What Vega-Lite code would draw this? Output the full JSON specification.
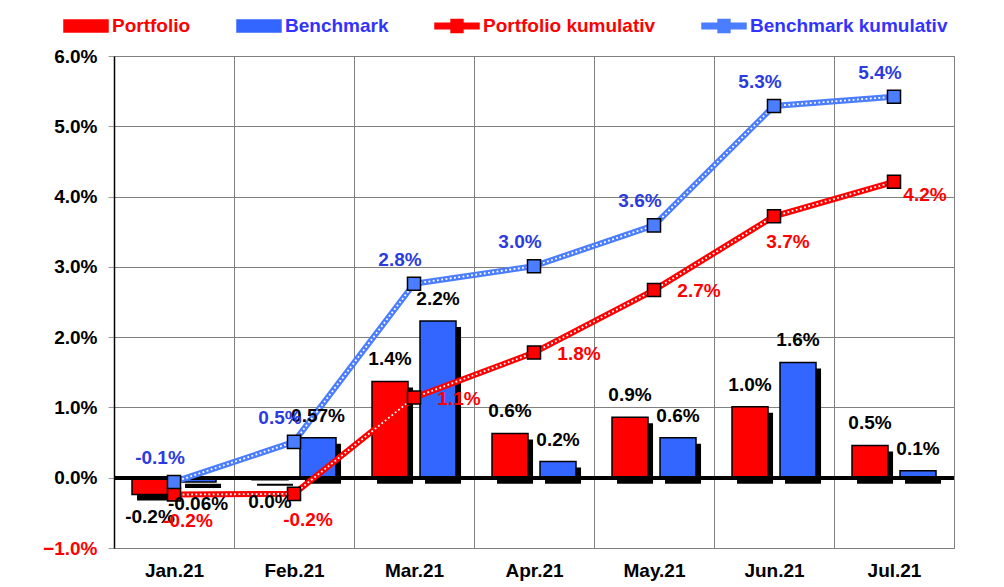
{
  "$schema": "https://vega.github.io/schema/vega-lite/v6.json",
  "width": 840,
  "height": 492,
  "autosize": {"type": "none"},
  "padding": {"left": 114, "top": 56, "right": 50, "bottom": 39},
  "background": "white",
  "config": {
    "view": {"stroke": "#808080", "strokeWidth": 1},
    "font": "Liberation Sans"
  },
  "resolve": {"scale": {"xOffset": "independent"}},
  "data": {
    "values": [
      {"month": "Jan.21", "kind": "bar", "series": "Portfolio", "value": -0.24, "label": "-0.2%"},
      {"month": "Feb.21", "kind": "bar", "series": "Portfolio", "value": -0.03, "label": "0.0%"},
      {"month": "Mar.21", "kind": "bar", "series": "Portfolio", "value": 1.37, "label": "1.4%"},
      {"month": "Apr.21", "kind": "bar", "series": "Portfolio", "value": 0.63, "label": "0.6%"},
      {"month": "May.21", "kind": "bar", "series": "Portfolio", "value": 0.86, "label": "0.9%"},
      {"month": "Jun.21", "kind": "bar", "series": "Portfolio", "value": 1.01, "label": "1.0%"},
      {"month": "Jul.21", "kind": "bar", "series": "Portfolio", "value": 0.46, "label": "0.5%"},
      {"month": "Jan.21", "kind": "bar", "series": "Benchmark", "value": -0.06, "label": "-0.06%"},
      {"month": "Feb.21", "kind": "bar", "series": "Benchmark", "value": 0.57, "label": "0.57%"},
      {"month": "Mar.21", "kind": "bar", "series": "Benchmark", "value": 2.23, "label": "2.2%"},
      {"month": "Apr.21", "kind": "bar", "series": "Benchmark", "value": 0.23, "label": "0.2%"},
      {"month": "May.21", "kind": "bar", "series": "Benchmark", "value": 0.57, "label": "0.6%"},
      {"month": "Jun.21", "kind": "bar", "series": "Benchmark", "value": 1.64, "label": "1.6%"},
      {"month": "Jul.21", "kind": "bar", "series": "Benchmark", "value": 0.10, "label": "0.1%"},
      {"month": "Jan.21", "kind": "cum", "series": "Portfolio kumulativ", "value": -0.24, "label": "-0.2%"},
      {"month": "Feb.21", "kind": "cum", "series": "Portfolio kumulativ", "value": -0.23, "label": "-0.2%"},
      {"month": "Mar.21", "kind": "cum", "series": "Portfolio kumulativ", "value": 1.14, "label": "1.1%"},
      {"month": "Apr.21", "kind": "cum", "series": "Portfolio kumulativ", "value": 1.78, "label": "1.8%"},
      {"month": "May.21", "kind": "cum", "series": "Portfolio kumulativ", "value": 2.67, "label": "2.7%"},
      {"month": "Jun.21", "kind": "cum", "series": "Portfolio kumulativ", "value": 3.72, "label": "3.7%"},
      {"month": "Jul.21", "kind": "cum", "series": "Portfolio kumulativ", "value": 4.21, "label": "4.2%"},
      {"month": "Jan.21", "kind": "cum", "series": "Benchmark kumulativ", "value": -0.06, "label": "-0.1%"},
      {"month": "Feb.21", "kind": "cum", "series": "Benchmark kumulativ", "value": 0.51, "label": "0.5%"},
      {"month": "Mar.21", "kind": "cum", "series": "Benchmark kumulativ", "value": 2.76, "label": "2.8%"},
      {"month": "Apr.21", "kind": "cum", "series": "Benchmark kumulativ", "value": 3.01, "label": "3.0%"},
      {"month": "May.21", "kind": "cum", "series": "Benchmark kumulativ", "value": 3.59, "label": "3.6%"},
      {"month": "Jun.21", "kind": "cum", "series": "Benchmark kumulativ", "value": 5.29, "label": "5.3%"},
      {"month": "Jul.21", "kind": "cum", "series": "Benchmark kumulativ", "value": 5.42, "label": "5.4%"}
    ]
  },
  "layer": [
    {
      "transform": [{"filter": "datum.kind == 'bar'"}],
      "mark": {"type": "bar", "fill": "black", "yOffset": 6},
      "encoding": {
        "x": {"field": "month", "type": "nominal", "sort": ["Jan.21","Feb.21","Mar.21","Apr.21","May.21","Jun.21","Jul.21"],
              "scale": {"paddingInner": 0, "paddingOuter": 0},
              "axis": {"title": null, "tickBand": "extent", "grid": true, "gridColor": "#808080", "gridWidth": 1, "domain": false, "ticks": false, "tickSize": 0, "labelPadding": 13, "labelAngle": 0, "labelFont": "Liberation Sans", "labelFontSize": 19, "labelFontWeight": "bold", "labelColor": "black"}},
        "xOffset": {"field": "series", "type": "nominal", "sort": ["Portfolio", "Benchmark"], "scale": {"paddingInner": 0.25, "paddingOuter": 0.375, "align": 0.64}},
        "y": {"field": "value", "type": "quantitative",
              "scale": {"domain": [-1, 6], "nice": false, "zero": false},
              "axis": {"title": null, "values": [-1,0,1,2,3,4,5,6], "labelExpr": "format(datum.value, '.1f') + '%'", "grid": true, "gridColor": "#808080", "gridWidth": 1, "domain": true, "domainColor": "black", "domainWidth": 1.5, "tickColor": "#999999", "tickSize": 6, "labelPadding": 11, "labelFont": "Liberation Sans", "labelFontSize": 19, "labelFontWeight": "bold", "labelColor": {"condition": {"test": "datum.value < 0", "value": "#ff0000"}, "value": "black"}}}
      }
    },
    {
      "transform": [{"filter": "datum.kind == 'bar'"}],
      "mark": {"type": "bar", "stroke": "black", "strokeWidth": 1.5},
      "encoding": {
        "x": {"field": "month", "type": "nominal", "sort": ["Jan.21","Feb.21","Mar.21","Apr.21","May.21","Jun.21","Jul.21"]},
        "xOffset": {"field": "series", "type": "nominal", "sort": ["Portfolio", "Benchmark"], "scale": {"paddingInner": 0.25, "paddingOuter": 0.375}},
        "y": {"field": "value", "type": "quantitative"},
        "color": {"field": "series", "type": "nominal",
                  "scale": {"domain": ["Portfolio", "Benchmark", "Portfolio kumulativ", "Benchmark kumulativ"], "range": ["#ff0000", "#3366ff", "#ff0000", "#4a7dff"]},
                  "legend": {"title": null, "orient": "none", "legendX": -51, "legendY": -53, "direction": "horizontal", "columns": 4, "columnPadding": 43,
                             "symbolType": {"expr": "indexof(datum.value, 'kumulativ') >= 0 ? 'M-1,-0.13H-0.27V-0.3H0.27V-0.13H1V0.13H0.27V0.3H-0.27V0.13H-1Z' : 'M-1,-0.27H1V0.27H-1Z'"},
                             "symbolSize": 1936, "symbolStrokeColor": "black", "symbolStrokeWidth": 1.5, "symbolOpacity": 1,
                             "labelFont": "Liberation Sans", "labelFontSize": 19, "labelFontWeight": "bold", "labelOffset": 3, "labelLimit": 300,
                             "labelColor": {"expr": "indexof(datum.value, 'Portfolio') >= 0 ? '#ff0000' : '#3333ff'"}}}
      }
    },
    {
      "mark": {"type": "rule", "color": "black", "strokeWidth": 3},
      "encoding": {"y": {"datum": 0, "type": "quantitative"}}
    },
    {
      "transform": [{"filter": "datum.kind == 'cum'"}],
      "mark": {"type": "line", "strokeWidth": 6},
      "encoding": {
        "x": {"field": "month", "type": "nominal", "sort": ["Jan.21","Feb.21","Mar.21","Apr.21","May.21","Jun.21","Jul.21"]},
        "y": {"field": "value", "type": "quantitative"},
        "color": {"field": "series", "type": "nominal"}
      }
    },
    {
      "transform": [{"filter": "datum.kind == 'cum'"}],
      "mark": {"type": "line", "strokeWidth": 1.8, "stroke": "white", "strokeDash": [1.8, 2.5]},
      "encoding": {
        "x": {"field": "month", "type": "nominal", "sort": ["Jan.21","Feb.21","Mar.21","Apr.21","May.21","Jun.21","Jul.21"]},
        "y": {"field": "value", "type": "quantitative"},
        "detail": {"field": "series", "type": "nominal"}
      }
    },
    {
      "transform": [{"filter": "datum.kind == 'cum'"}],
      "mark": {"type": "point", "shape": "square", "filled": true, "size": 170, "stroke": "black", "strokeWidth": 1.5, "opacity": 1},
      "encoding": {
        "x": {"field": "month", "type": "nominal", "sort": ["Jan.21","Feb.21","Mar.21","Apr.21","May.21","Jun.21","Jul.21"]},
        "y": {"field": "value", "type": "quantitative"},
        "color": {"field": "series", "type": "nominal"}
      }
    },
    {
      "transform": [{"filter": "datum.kind == 'bar' && datum.value >= 0"}],
      "mark": {"type": "text", "dy": -22, "baseline": "middle", "font": "Liberation Sans", "fontSize": 19, "fontWeight": "bold", "color": "black"},
      "encoding": {
        "x": {"field": "month", "type": "nominal", "sort": ["Jan.21","Feb.21","Mar.21","Apr.21","May.21","Jun.21","Jul.21"]},
        "xOffset": {"field": "series", "type": "nominal", "sort": ["Portfolio", "Benchmark"], "scale": {"type": "point", "padding": 0.75}},
        "y": {"field": "value", "type": "quantitative"},
        "text": {"field": "label"}
      }
    },
    {
      "transform": [{"filter": "datum.kind == 'bar' && datum.value < 0"}],
      "mark": {"type": "text", "dy": 22, "baseline": "middle", "font": "Liberation Sans", "fontSize": 19, "fontWeight": "bold", "color": "black"},
      "encoding": {
        "x": {"field": "month", "type": "nominal", "sort": ["Jan.21","Feb.21","Mar.21","Apr.21","May.21","Jun.21","Jul.21"]},
        "xOffset": {"field": "series", "type": "nominal", "sort": ["Portfolio", "Benchmark"], "scale": {"type": "point", "padding": 0.75}},
        "y": {"field": "value", "type": "quantitative"},
        "text": {"field": "label"}
      }
    },
    {
      "transform": [{"filter": "datum.series == 'Benchmark kumulativ'"}],
      "mark": {"type": "text", "dx": -14, "dy": -24, "baseline": "middle", "font": "Liberation Sans", "fontSize": 19, "fontWeight": "bold", "color": "#2b3be0"},
      "encoding": {
        "x": {"field": "month", "type": "nominal", "sort": ["Jan.21","Feb.21","Mar.21","Apr.21","May.21","Jun.21","Jul.21"]},
        "y": {"field": "value", "type": "quantitative"},
        "text": {"field": "label"}
      }
    },
    {
      "transform": [{"filter": "datum.series == 'Portfolio kumulativ' && indexof(['Jan.21','Feb.21','Jun.21'], datum.month) >= 0"}],
      "mark": {"type": "text", "dx": 14, "dy": 26, "baseline": "middle", "font": "Liberation Sans", "fontSize": 19, "fontWeight": "bold", "color": "#ff0000"},
      "encoding": {
        "x": {"field": "month", "type": "nominal", "sort": ["Jan.21","Feb.21","Mar.21","Apr.21","May.21","Jun.21","Jul.21"]},
        "y": {"field": "value", "type": "quantitative"},
        "text": {"field": "label"}
      }
    },
    {
      "transform": [{"filter": "datum.series == 'Portfolio kumulativ' && indexof(['Mar.21','Apr.21','May.21'], datum.month) >= 0"}],
      "mark": {"type": "text", "dx": 45, "dy": 1, "baseline": "middle", "font": "Liberation Sans", "fontSize": 19, "fontWeight": "bold", "color": "#ff0000"},
      "encoding": {
        "x": {"field": "month", "type": "nominal", "sort": ["Jan.21","Feb.21","Mar.21","Apr.21","May.21","Jun.21","Jul.21"]},
        "y": {"field": "value", "type": "quantitative"},
        "text": {"field": "label"}
      }
    },
    {
      "transform": [{"filter": "datum.series == 'Portfolio kumulativ' && datum.month == 'Jul.21'"}],
      "mark": {"type": "text", "dx": 31, "dy": 13, "baseline": "middle", "font": "Liberation Sans", "fontSize": 19, "fontWeight": "bold", "color": "#ff0000"},
      "encoding": {
        "x": {"field": "month", "type": "nominal", "sort": ["Jan.21","Feb.21","Mar.21","Apr.21","May.21","Jun.21","Jul.21"]},
        "y": {"field": "value", "type": "quantitative"},
        "text": {"field": "label"}
      }
    }
  ]
}
